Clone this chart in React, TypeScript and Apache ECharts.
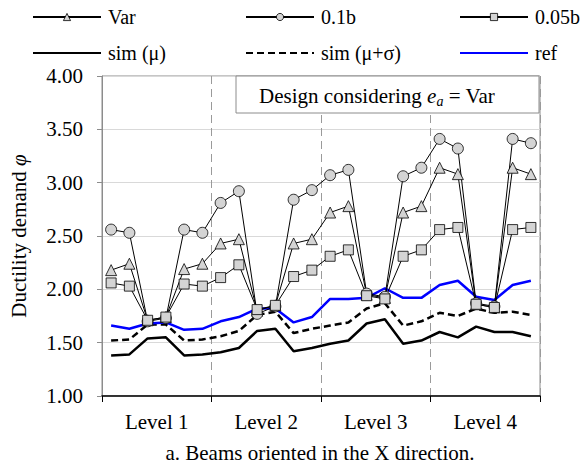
import React, { useEffect, useRef } from "react";
import * as echarts from "echarts";

const LEVELS = ["Level 1", "Level 2", "Level 3", "Level 4"];
const SPANS_PER_LEVEL = 6;

const VAR = [2.18, 2.24, 1.71, 1.74, 2.19, 2.24, 2.43, 2.47, 1.8, 1.85, 2.43, 2.47, 2.72, 2.78, 1.95, 1.92, 2.72, 2.78, 3.14, 3.08, 1.86, 1.83, 3.14, 3.08];
const B10 = [2.56, 2.53, 1.7, 1.73, 2.56, 2.53, 2.81, 2.92, 1.77, 1.84, 2.84, 2.93, 3.07, 3.12, 1.96, 1.93, 3.06, 3.14, 3.41, 3.32, 1.87, 1.84, 3.41, 3.37];
const B05 = [2.06, 2.03, 1.71, 1.74, 2.05, 2.03, 2.11, 2.23, 1.81, 1.85, 2.12, 2.18, 2.31, 2.37, 1.94, 1.91, 2.31, 2.37, 2.56, 2.58, 1.86, 1.83, 2.56, 2.58];
const SIM_MU = [1.38, 1.39, 1.54, 1.55, 1.38, 1.39, 1.41, 1.45, 1.61, 1.63, 1.42, 1.45, 1.49, 1.52, 1.68, 1.72, 1.49, 1.52, 1.6, 1.55, 1.65, 1.6, 1.6, 1.56];
const SIM_MU_SIGMA = [1.52, 1.53, 1.67, 1.67, 1.52, 1.53, 1.56, 1.61, 1.76, 1.79, 1.59, 1.63, 1.66, 1.69, 1.82, 1.87, 1.66, 1.7, 1.78, 1.75, 1.82, 1.78, 1.79, 1.76];
const REF = [1.66, 1.63, 1.68, 1.69, 1.62, 1.63, 1.7, 1.74, 1.82, 1.82, 1.69, 1.74, 1.91, 1.91, 1.92, 2.01, 1.92, 1.92, 2.04, 2.08, 1.93, 1.9, 2.04, 2.08];

const Y_TICKS = [1.0, 1.5, 2.0, 2.5, 3.0, 3.5, 4.0];

const SPANS = LEVELS.flatMap((lvl) =>
  Array.from({ length: SPANS_PER_LEVEL }, (_, k) => `${lvl} / ${k + 1}`)
);

const FONT = "Liberation Serif, Times New Roman, serif";
const MARKER_FILL = "#d4d4d4";

const GRID = { left: 102, top: 76, width: 438, height: 320 };

function markerSeries(name: string, data: number[], symbol: string) {
  return {
    name,
    type: "line",
    data,
    symbol,
    symbolSize: symbol === "rect" ? 10 : 11,
    lineStyle: { color: "#000", width: 1 },
    itemStyle: { color: MARKER_FILL, borderColor: "#000", borderWidth: 0.8 },
    z: 5,
  };
}

function plainSeries(name: string, data: number[], color: string, type: string) {
  return {
    name,
    type: "line",
    data,
    symbol: "none",
    lineStyle: { color, width: 2.5, type: type === "dashed" ? [7, 4] : "solid" },
    itemStyle: { color },
    z: 3,
  };
}

function legendAt(name: string, left: number, top: number, lineOnly: boolean) {
  return {
    data: [name],
    left,
    top,
    padding: 0,
    itemWidth: 68,
    itemHeight: 9,
    selectedMode: false,
    itemStyle: lineOnly
      ? { color: "rgba(0,0,0,0)", borderColor: "rgba(0,0,0,0)", borderWidth: 0, opacity: 0 }
      : { borderWidth: 0.8 },
    textStyle: { fontFamily: FONT, fontSize: 20, color: "#000", padding: [0, 0, 0, 2] },
  };
}

export default function App() {
  const ref = useRef<HTMLDivElement>(null);

  useEffect(() => {
    if (!ref.current) return;
    const chart = echarts.init(ref.current, undefined, { renderer: "svg" });

    const option = {
      animation: false,
      backgroundColor: "#fff",
      textStyle: { fontFamily: FONT },
      legend: [
        legendAt("Var", 32, 7, false),
        legendAt("0.1b", 245, 7, false),
        legendAt("0.05b", 459, 7, false),
        legendAt("sim (μ)", 32, 43, true),
        legendAt("sim (μ+σ)", 245, 43, true),
        legendAt("ref", 459, 43, true),
      ],
      grid: {
        ...GRID,
        show: true,
        borderColor: "#8c8c8c",
        borderWidth: 1,
        containLabel: false,
      },
      xAxis: [
        {
          type: "category",
          data: SPANS,
          show: false,
          boundaryGap: true,
        },
        {
          type: "category",
          data: LEVELS,
          position: "bottom",
          boundaryGap: true,
          axisLine: { show: true, lineStyle: { color: "#000", width: 1.5 } },
          axisTick: { show: true, length: 6, lineStyle: { color: "#000", width: 1 } },
          axisLabel: { fontFamily: FONT, fontSize: 21, color: "#000", margin: 15 },
          splitLine: { show: true, lineStyle: { color: "#9a9a9a", width: 1, type: [8, 5] } },
        },
      ],
      yAxis: {
        type: "value",
        min: Y_TICKS[0],
        max: Y_TICKS[Y_TICKS.length - 1],
        interval: 0.5,
        name: "Ductility demand {i|φ}",
        nameLocation: "middle",
        nameGap: 73,
        nameTextStyle: {
          fontFamily: FONT,
          fontSize: 21,
          color: "#000",
          rich: { i: { fontFamily: FONT, fontSize: 21, fontStyle: "italic", color: "#000" } },
        },
        axisLine: { show: true, lineStyle: { color: "#8c8c8c", width: 1 } },
        axisTick: { show: true, length: 5, lineStyle: { color: "#8c8c8c" } },
        axisLabel: {
          fontFamily: FONT,
          fontSize: 21,
          color: "#000",
          margin: 19,
          formatter: (v: number) => v.toFixed(2),
        },
        splitLine: { show: true, lineStyle: { color: "#d9d9d9", width: 1 } },
      },
      series: [
        plainSeries("sim (μ)", SIM_MU, "#000", "solid"),
        plainSeries("sim (μ+σ)", SIM_MU_SIGMA, "#000", "dashed"),
        plainSeries("ref", REF, "#0000ff", "solid"),
        markerSeries("Var", VAR, "triangle"),
        markerSeries("0.1b", B10, "circle"),
        markerSeries("0.05b", B05, "rect"),
      ],
      graphic: [
        {
          type: "rect",
          shape: { x: 236, y: 76, width: 303, height: 37 },
          style: { fill: "#fff", stroke: "#8c8c8c", lineWidth: 1 },
          z: 10,
        },
        {
          type: "text",
          x: 377,
          y: 96,
          z: 11,
          style: {
            text: "Design considering {i|e}{s|a} = Var",
            fontFamily: FONT,
            fontSize: 21,
            fill: "#000",
            align: "center",
            verticalAlign: "middle",
            lineHeight: 25,
            rich: {
              i: { fontFamily: FONT, fontSize: 21, fontStyle: "italic", fill: "#000", lineHeight: 25 },
              s: {
                fontFamily: FONT,
                fontSize: 14,
                fontStyle: "italic",
                fill: "#000",
                verticalAlign: "bottom",
                lineHeight: 14,
              },
            },
          },
        },
        {
          type: "text",
          x: 320,
          y: 453,
          style: {
            text: "a. Beams oriented in the X direction.",
            fontFamily: FONT,
            fontSize: 21,
            fill: "#000",
            align: "center",
            verticalAlign: "middle",
          },
        },
      ],
    };

    chart.setOption(option as any);
    return () => chart.dispose();
  }, []);

  return (
    <div
      ref={ref}
      style={{ position: "fixed", left: 0, top: 0, width: 585, height: 467 }}
    />
  );
}
